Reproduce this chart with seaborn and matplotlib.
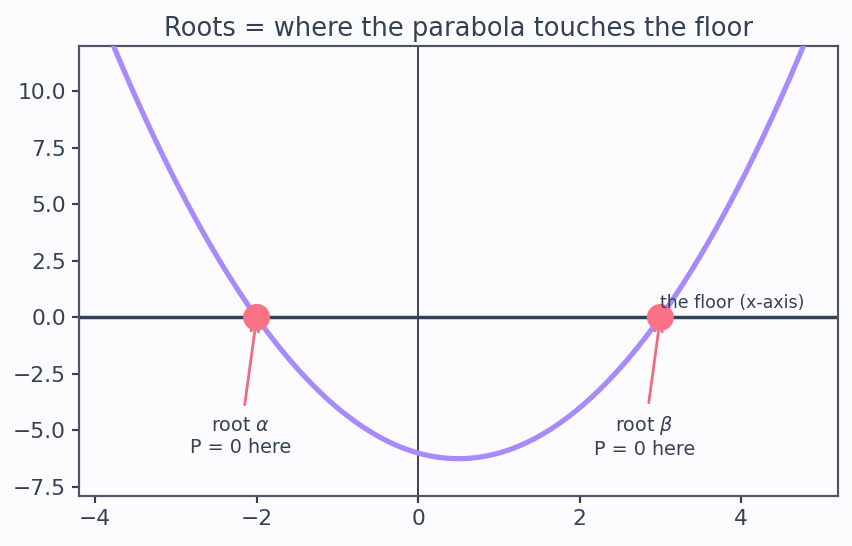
import numpy as np
import pandas as pd
import matplotlib.pyplot as plt
import seaborn as sns

# P(x) = x^2 - x - 6 = (x + 2)(x - 3)
coeffs = [1, -1, -6]
roots = [-2, 3]
root_names = [r"root $\alpha$", r"root $\beta$"]

x = np.linspace(-4.2, 5.2, 400)
curve = pd.DataFrame({"x": x, "P": np.polyval(coeffs, x)})
pts = pd.DataFrame({"x": roots, "P": [0, 0]})

ink = "#334155"
sns.set_theme(style="ticks", rc={
    "axes.facecolor": "#fcfcff", "figure.facecolor": "#fcfcff",
    "axes.edgecolor": "#4b5563", "text.color": ink,
    "xtick.color": ink, "ytick.color": ink, "axes.labelcolor": ink,
    "xtick.major.size": 4, "ytick.major.size": 4,
})
plt.rcParams["font.family"] = ["DejaVu Sans"]

fig, ax = plt.subplots(figsize=(6.816, 4.368), dpi=125)

ax.axhline(0, color=ink, lw=2, zorder=2)
ax.axvline(0, color=ink, lw=1.1, zorder=2)
sns.lineplot(data=curve, x="x", y="P", color="#a78bfa", lw=3, ax=ax, zorder=3)
sns.scatterplot(data=pts, x="x", y="P", color="#fb7185", s=240, edgecolor="none", ax=ax, zorder=5)

for r, name in zip(roots, root_names):
    ax.annotate(f"{name}\nP = 0 here", xy=(r, 0), xytext=(r - 0.2, -5.25),
                ha="center", va="center", fontsize=11, color=ink,
                arrowprops=dict(arrowstyle="->", color="#f06b80", lw=1.6,
                                shrinkA=4, shrinkB=2))

ax.text(3.0, 0.22, "the floor (x-axis)", fontsize=10, color=ink, va="bottom", zorder=6)

ax.set_xlim(-4.2, 5.2)
ax.set_ylim(-7.9, 12)
ax.set_xticks([-4, -2, 0, 2, 4])
ax.set_yticks([-7.5, -5, -2.5, 0, 2.5, 5, 7.5, 10])
ax.set_xlabel("")
ax.set_ylabel("")
ax.tick_params(labelsize=12.5)
ax.set_title("Roots = where the parabola touches the floor", fontsize=14.8, color=ink)

fig.subplots_adjust(left=0.0927, right=0.9836, top=0.9158, bottom=0.0916)
plt.savefig("out.png", dpi=125)
